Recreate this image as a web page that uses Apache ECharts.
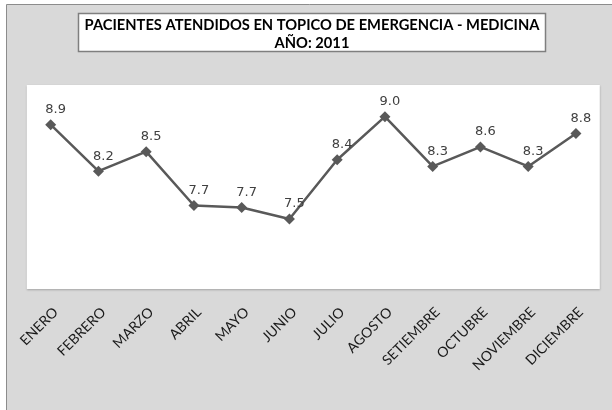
<!DOCTYPE html>
<html>
<head>
<meta charset="utf-8">
<script src="https://cdn.jsdelivr.net/npm/echarts@6/dist/echarts.min.js"></script>
<style>
  html, body { margin: 0; padding: 0; background: #ffffff; }
  #chart { width: 612px; height: 410px; }
</style>
</head>
<body>
<div id="chart"></div>
<script>
// meses (eje X)
const meses = ['ENERO', 'FEBRERO', 'MARZO', 'ABRIL', 'MAYO', 'JUNIO',
  'JULIO', 'AGOSTO', 'SETIEMBRE', 'OCTUBRE', 'NOVIEMBRE', 'DICIEMBRE'];
// pacientes atendidos
const pacientes = [8.88, 8.19, 8.48, 7.68, 7.65, 7.48, 8.36, 9.0, 8.26, 8.55, 8.26, 8.75];

const tituloLinea1 = 'PACIENTES ATENDIDOS EN TOPICO DE EMERGENCIA - MEDICINA';
const tituloLinea2 = 'AÑO: 2011';

const chart = echarts.init(document.getElementById('chart'), null, {renderer: 'canvas'});

let option = {
  animation: false,
  backgroundColor: '#ffffff',
  graphic: [
    // area del grafico (gris con borde)
    {
      type: 'rect', z: -10,
      shape: {x: 6.5, y: 4.5, width: 700, height: 500},
      style: {fill: '#d9d9d9', stroke: '#8c8c8c', lineWidth: 1}
    },
    // cuadro del titulo
    {
      type: 'rect', z: 5,
      shape: {x: 78.5, y: 13.5, width: 467, height: 38},
      style: {fill: '#ffffff', stroke: '#7f7f7f', lineWidth: 1.5}
    },
    {
      type: 'text', z: 6,
      x: 312, y: 25,
      style: {
        text: tituloLinea1, fill: '#000000',
        font: 'bold 14.7px Lato', align: 'center', verticalAlign: 'middle'
      }
    },
    {
      type: 'text', z: 6,
      x: 312, y: 43,
      style: {
        text: tituloLinea2, fill: '#000000',
        font: 'bold 14.7px Lato', align: 'center', verticalAlign: 'middle'
      }
    }
  ],
  grid: {
    left: 26.8,
    top: 85,
    width: 573,
    height: 204,
    show: true,
    backgroundColor: '#ffffff',
    borderWidth: 0,
    shadowColor: 'rgba(0,0,0,0.25)',
    shadowBlur: 2,
    shadowOffsetY: 1,
    containLabel: false
  },
  xAxis: [{
    type: 'category',
    data: meses,
    boundaryGap: true,
    axisLine: {show: false},
    axisTick: {show: false},
    axisLabel: {
      interval: 0,
      rotate: 45,
      margin: 16,
      align: 'right',
      verticalAlign: 'top',
      color: '#1a1a1a',
      fontFamily: 'Lato',
      fontSize: 14
    }
  }],
  yAxis: [{
    type: 'value',
    min: 6.44,
    max: 9.47,
    show: false,
    splitLine: {show: false}
  }],
  series: [{
    type: 'line',
    data: pacientes,
    symbol: 'diamond',
    symbolSize: 11,
    lineStyle: {color: '#595959', width: 2.5},
    itemStyle: {color: '#595959'},
    label: {
      show: true,
      position: 'top',
      distance: 4,
      offset: [5, 1],
      color: '#404040',
      fontFamily: 'DejaVu Sans',
      fontSize: 13,
      formatter: function (p) {
        return p.value.toFixed(1);
      }
    }
  }]
};

chart && chart.setOption(option);
window.addEventListener('resize', function () {
  chart.resize();
});
</script>
</body>
</html>
